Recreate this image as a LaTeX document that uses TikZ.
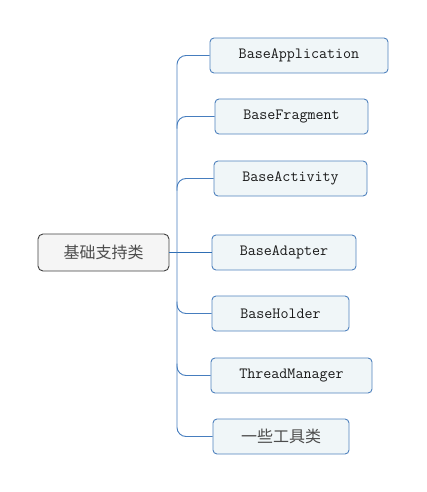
\documentclass[tikz,border=0pt]{standalone}
\usepackage{fontspec}
\newfontfamily\cjk{Noto Sans CJK SC}
\begin{document}
\begin{tikzpicture}[x=1pt,y=-1pt,
  leaf/.style={draw={rgb,255:red,80;green,130;blue,190}, line width=0.9pt, fill={rgb,255:red,240;green,246;blue,248}, rounded corners=4pt, minimum height=35pt, inner sep=0pt, text=black!90, font=\ttfamily\fontsize{15.6}{15.6}\selectfont},
  cjkleaf/.style={leaf, text=black!70, font=\cjk\fontsize{16}{16}\selectfont},
  rootbox/.style={draw=black!75, line width=0.9pt, fill=black!4, rounded corners=5pt, minimum width=131pt, minimum height=37pt, inner sep=0pt, text=black!70, font=\cjk\fontsize{16}{16}\selectfont},
  trunk/.style={draw={rgb,255:red,46;green,110;blue,180}, line width=0.9pt},
  branch/.style={draw={rgb,255:red,70;green,125;blue,190}, line width=0.9pt, rounded corners=9pt}]
\useasboundingbox (0,0) rectangle (427,492);
\node[rootbox] (root) at (103.5,252.5) {基础支持类};
\node[leaf, minimum width=178pt] (a) at (299,55.5) {BaseApplication};
\node[leaf, minimum width=153pt] (b) at (291.5,116.5) {BaseFragment};
\node[leaf, minimum width=153pt] (c) at (290.5,178.5) {BaseActivity};
\node[leaf, minimum width=144pt] (d) at (284,252.5) {BaseAdapter};
\node[leaf, minimum width=137pt] (e) at (280.5,313.5) {BaseHolder};
\node[leaf, minimum width=161pt] (f) at (291.5,375.5) {ThreadManager};
\node[cjkleaf, minimum width=136pt] (g) at (281,436.5) {一些工具类};
\coordinate (j) at (177,252.5);
\draw[trunk] (root.east) -- (d.west);
\draw[branch] (a.west) -- (j |- a.west) -- (j |- g.west) -- (g.west);
\foreach \n in {b,c}{
  \draw[branch] ([yshift=-12pt]j |- \n.west) -- (j |- \n.west) -- (\n.west);
}
\foreach \n in {e,f}{
  \draw[branch] ([yshift=12pt]j |- \n.west) -- (j |- \n.west) -- (\n.west);
}
\end{tikzpicture}
\end{document}
